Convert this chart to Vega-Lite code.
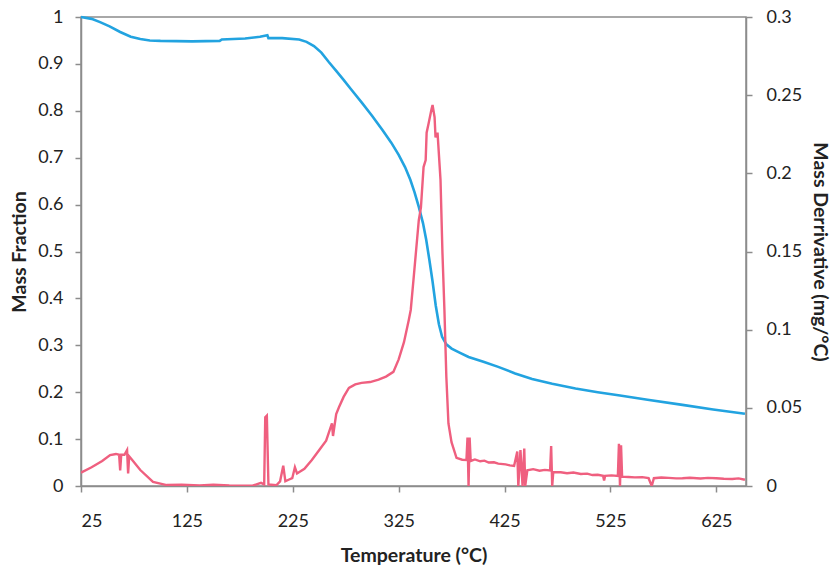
{
  "$schema": "https://vega.github.io/schema/vega-lite/v6.json",
  "width": 665,
  "height": 469,
  "autosize": {"type": "none"},
  "padding": {"left": 81, "top": 17, "right": 89, "bottom": 82},
  "background": "white",
  "config": {
    "font": "Lato",
    "view": {"stroke": "#8c8c8c", "strokeWidth": 1.5},
    "axis": {
      "grid": false,
      "domainColor": "#8c8c8c",
      "domainWidth": 1.5,
      "tickColor": "#8c8c8c",
      "tickWidth": 1.5,
      "tickSize": 6,
      "labelFont": "Lato",
      "labelFontSize": 18,
      "labelColor": "#222222",
      "titleFont": "Lato",
      "titleFontSize": 19.5,
      "titleFontWeight": "bold",
      "titleColor": "#222222"
    }
  },
  "datasets": {
    "mass": [
      {"T": 25, "mass": 1.0}, {"T": 35, "mass": 0.996}, {"T": 43, "mass": 0.989},
      {"T": 52, "mass": 0.98}, {"T": 62, "mass": 0.968}, {"T": 72, "mass": 0.958},
      {"T": 81, "mass": 0.953}, {"T": 90, "mass": 0.95}, {"T": 100, "mass": 0.949},
      {"T": 130, "mass": 0.948}, {"T": 156, "mass": 0.949}, {"T": 158, "mass": 0.952},
      {"T": 180, "mass": 0.954}, {"T": 194, "mass": 0.958}, {"T": 201, "mass": 0.961},
      {"T": 202, "mass": 0.955}, {"T": 215, "mass": 0.955}, {"T": 231, "mass": 0.952},
      {"T": 238, "mass": 0.947}, {"T": 245, "mass": 0.938}, {"T": 252, "mass": 0.924},
      {"T": 259, "mass": 0.904}, {"T": 266, "mass": 0.885}, {"T": 273, "mass": 0.866},
      {"T": 280, "mass": 0.846}, {"T": 290, "mass": 0.818}, {"T": 300, "mass": 0.789},
      {"T": 310, "mass": 0.758}, {"T": 318, "mass": 0.732}, {"T": 325, "mass": 0.706},
      {"T": 331, "mass": 0.68}, {"T": 336, "mass": 0.653}, {"T": 340, "mass": 0.626},
      {"T": 344, "mass": 0.595}, {"T": 348, "mass": 0.56}, {"T": 351, "mass": 0.525},
      {"T": 354, "mass": 0.482}, {"T": 357, "mass": 0.436}, {"T": 360, "mass": 0.385},
      {"T": 363, "mass": 0.345}, {"T": 366, "mass": 0.318}, {"T": 370, "mass": 0.302},
      {"T": 375, "mass": 0.293}, {"T": 382, "mass": 0.285}, {"T": 391, "mass": 0.275},
      {"T": 405, "mass": 0.265}, {"T": 419, "mass": 0.254}, {"T": 435, "mass": 0.24},
      {"T": 451, "mass": 0.228}, {"T": 470, "mass": 0.218}, {"T": 492, "mass": 0.208},
      {"T": 513, "mass": 0.2}, {"T": 534, "mass": 0.193}, {"T": 560, "mass": 0.184},
      {"T": 593, "mass": 0.173}, {"T": 622, "mass": 0.163}, {"T": 652, "mass": 0.154}
    ],
    "deriv": [
      {"T": 25, "d": 0.0085}, {"T": 35, "d": 0.012}, {"T": 45, "d": 0.016},
      {"T": 52.5, "d": 0.0198}, {"T": 58, "d": 0.0205}, {"T": 61, "d": 0.02},
      {"T": 62, "d": 0.01}, {"T": 63, "d": 0.02}, {"T": 66, "d": 0.02},
      {"T": 68.5, "d": 0.023}, {"T": 69.5, "d": 0.008}, {"T": 70.5, "d": 0.019},
      {"T": 73, "d": 0.017}, {"T": 81, "d": 0.0102}, {"T": 93, "d": 0.0026},
      {"T": 106, "d": 0.0006}, {"T": 120, "d": 0.0008}, {"T": 137, "d": 0.0003},
      {"T": 150, "d": 0.0009}, {"T": 165, "d": 0.0004}, {"T": 187, "d": 0.0002},
      {"T": 195, "d": 0.002}, {"T": 198, "d": 0.001}, {"T": 199, "d": 0.044},
      {"T": 200.5, "d": 0.045}, {"T": 202, "d": 0.001}, {"T": 209.5, "d": 0.0005},
      {"T": 213, "d": 0.003}, {"T": 216, "d": 0.013}, {"T": 218, "d": 0.003},
      {"T": 221, "d": 0.004}, {"T": 224.5, "d": 0.005}, {"T": 227, "d": 0.012},
      {"T": 229, "d": 0.008}, {"T": 236, "d": 0.011}, {"T": 243, "d": 0.0166},
      {"T": 250, "d": 0.023}, {"T": 256.5, "d": 0.029}, {"T": 260, "d": 0.036},
      {"T": 262, "d": 0.040}, {"T": 263, "d": 0.032}, {"T": 266, "d": 0.046},
      {"T": 268.7, "d": 0.0505}, {"T": 273, "d": 0.057}, {"T": 278, "d": 0.0627},
      {"T": 284, "d": 0.065}, {"T": 290, "d": 0.066}, {"T": 298, "d": 0.0665},
      {"T": 306, "d": 0.068}, {"T": 313, "d": 0.07}, {"T": 320, "d": 0.073},
      {"T": 325, "d": 0.081}, {"T": 330, "d": 0.092}, {"T": 334.5, "d": 0.106},
      {"T": 336.4, "d": 0.1126}, {"T": 339, "d": 0.132}, {"T": 344, "d": 0.17},
      {"T": 346, "d": 0.178}, {"T": 348.5, "d": 0.204}, {"T": 350.5, "d": 0.2085},
      {"T": 351.4, "d": 0.226}, {"T": 353.3, "d": 0.232}, {"T": 356, "d": 0.241},
      {"T": 357, "d": 0.2437}, {"T": 358.9, "d": 0.236}, {"T": 359.8, "d": 0.223},
      {"T": 361.7, "d": 0.226}, {"T": 364.5, "d": 0.196}, {"T": 366.3, "d": 0.15},
      {"T": 368.2, "d": 0.1126}, {"T": 370, "d": 0.07}, {"T": 372, "d": 0.04},
      {"T": 374.9, "d": 0.028}, {"T": 379.6, "d": 0.018}, {"T": 385, "d": 0.0168},
      {"T": 389, "d": 0.0166}, {"T": 390, "d": 0.031}, {"T": 391, "d": 0.0},
      {"T": 392, "d": 0.031}, {"T": 393, "d": 0.016}, {"T": 397, "d": 0.017},
      {"T": 402, "d": 0.0158}, {"T": 406, "d": 0.0162}, {"T": 410, "d": 0.015},
      {"T": 415, "d": 0.0152}, {"T": 419, "d": 0.0143}, {"T": 426, "d": 0.0138},
      {"T": 430, "d": 0.0132}, {"T": 434, "d": 0.0128}, {"T": 437, "d": 0.022},
      {"T": 438, "d": 0.0}, {"T": 440, "d": 0.023}, {"T": 442, "d": 0.0},
      {"T": 443.6, "d": 0.024}, {"T": 444.5, "d": 0.0}, {"T": 446.5, "d": 0.01},
      {"T": 452, "d": 0.0108}, {"T": 458, "d": 0.0098}, {"T": 463, "d": 0.0103},
      {"T": 468, "d": 0.01}, {"T": 469, "d": 0.0256}, {"T": 470, "d": 0.0},
      {"T": 471, "d": 0.009}, {"T": 478, "d": 0.0088}, {"T": 484, "d": 0.0082},
      {"T": 490, "d": 0.0086}, {"T": 497, "d": 0.0077}, {"T": 503, "d": 0.0079},
      {"T": 508, "d": 0.007}, {"T": 513, "d": 0.0072}, {"T": 518, "d": 0.0065},
      {"T": 519, "d": 0.0035}, {"T": 520, "d": 0.0065}, {"T": 526, "d": 0.0068},
      {"T": 532, "d": 0.0065}, {"T": 533, "d": 0.027}, {"T": 534, "d": 0.0},
      {"T": 535, "d": 0.026}, {"T": 536, "d": 0.006}, {"T": 542, "d": 0.0058},
      {"T": 548, "d": 0.0055}, {"T": 555, "d": 0.0057}, {"T": 561, "d": 0.005},
      {"T": 564, "d": 0.0}, {"T": 566, "d": 0.005}, {"T": 573, "d": 0.0054},
      {"T": 580, "d": 0.0052}, {"T": 587, "d": 0.0049}, {"T": 593, "d": 0.005},
      {"T": 600, "d": 0.0053}, {"T": 610, "d": 0.0048}, {"T": 617, "d": 0.0052},
      {"T": 625, "d": 0.005}, {"T": 632, "d": 0.0046}, {"T": 640, "d": 0.0045},
      {"T": 646, "d": 0.0049}, {"T": 652, "d": 0.004}
    ]
  },
  "encoding": {
    "x": {
      "field": "T",
      "type": "quantitative",
      "scale": {"domain": [25, 653], "nice": false, "zero": false},
      "axis": {
        "title": "Temperature (°C)",
        "values": [25, 125, 225, 325, 425, 525, 625],
        "labelPadding": 20,
        "titlePadding": 16
      }
    }
  },
  "layer": [
    {
      "data": {"name": "mass"},
      "mark": {"type": "line", "color": "#22a3e0", "strokeWidth": 2.6},
      "encoding": {
        "y": {
          "field": "mass",
          "type": "quantitative",
          "scale": {"domain": [0, 1], "nice": false},
          "axis": {
            "orient": "left",
            "title": "Mass Fraction",
            "format": "~g",
            "values": [0, 0.1, 0.2, 0.3, 0.4, 0.5, 0.6, 0.7, 0.8, 0.9, 1],
            "labelPadding": 12,
            "titlePadding": 8
          }
        }
      }
    },
    {
      "data": {"name": "deriv"},
      "mark": {"type": "line", "color": "#ef5f7f", "strokeWidth": 2.4, "clip": true},
      "encoding": {
        "y": {
          "field": "d",
          "type": "quantitative",
          "scale": {"domain": [0, 0.3], "nice": false},
          "axis": {
            "orient": "right",
            "title": "Mass Derrivative (mg/°C)",
            "format": "~g",
            "values": [0, 0.05, 0.1, 0.15, 0.2, 0.25, 0.3],
            "labelPadding": 14,
            "titlePadding": 8
          }
        }
      }
    }
  ],
  "resolve": {"scale": {"y": "independent"}}
}
